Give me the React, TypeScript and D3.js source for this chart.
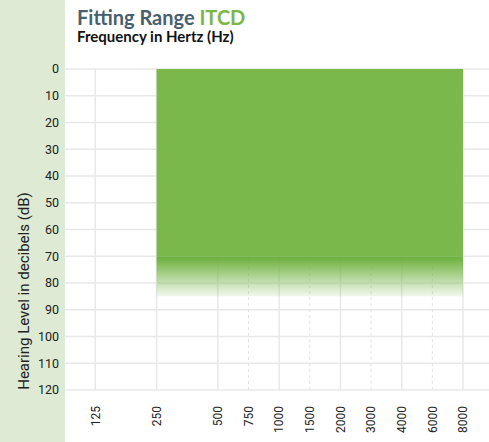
import React from "react";
import * as d3 from "d3";

// Data
const freqLabels = ["125", "250", "500", "750", "1000", "1500", "2000", "3000", "4000", "6000", "8000"];
const freqOctavePos = [0, 1, 2, 2.5, 3, 3.5, 4, 4.5, 5, 5.5, 6];
const freqIsMajor = [true, true, true, false, true, false, true, false, true, false, true];
const dbTicks = [0, 10, 20, 30, 40, 50, 60, 70, 80, 90, 100, 110, 120];
const rangeFreqFrom = 1; // 250 Hz (octave position)
const rangeFreqTo = 6; // 8000 Hz
const rangeDbFrom = 0;
const rangeDbSolidTo = 70;
const rangeDbTo = 85;

const W = 489;
const H = 442;
const PANEL_W = 65;

export default function App() {
  const x = d3.scaleLinear().domain([0, 6]).range([95.3, 463]);
  const y = d3.scaleLinear().domain([0, 120]).range([69, 390]);
  const font = "Roboto, 'Noto Sans', sans-serif";
  const grid = "#e8e8e8";

  return (
    <div style={{ position: "fixed", left: 0, top: 0 }}>
      <svg width={W} height={H} style={{ display: "block", background: "#fff" }}>
        <defs>
          <linearGradient id="fade" x1="0" y1="0" x2="0" y2="1">
            <stop offset="0" stopColor="#6aae3c" stopOpacity={1} />
            <stop offset="0.15" stopColor="#72b344" stopOpacity={0.92} />
            <stop offset="1" stopColor="#7ab84c" stopOpacity={0.1} />
          </linearGradient>
        </defs>
        <rect x={0} y={0} width={PANEL_W} height={H} fill="#deead3" />

        {/* horizontal grid */}
        {dbTicks.map((d) => (
          <line key={"h" + d} x1={PANEL_W} x2={W} y1={y(d)} y2={y(d)} stroke={grid} strokeWidth={1.5} />
        ))}
        {/* vertical grid */}
        {freqOctavePos.map((p, i) => (
          <line
            key={"v" + i}
            x1={x(p)}
            x2={x(p)}
            y1={y(0)}
            y2={y(120)}
            stroke={freqIsMajor[i] ? grid : "#e2e2e2"}
            strokeWidth={freqIsMajor[i] ? 1.5 : 1}
            strokeDasharray={freqIsMajor[i] ? undefined : "3,3"}
          />
        ))}

        {/* fitting range */}
        <rect
          x={x(rangeFreqFrom)}
          y={y(rangeDbFrom)}
          width={x(rangeFreqTo) - x(rangeFreqFrom)}
          height={y(rangeDbSolidTo) - y(rangeDbFrom)}
          fill="#7ab84c"
        />
        <rect
          x={x(rangeFreqFrom)}
          y={y(rangeDbSolidTo)}
          width={x(rangeFreqTo) - x(rangeFreqFrom)}
          height={y(rangeDbTo) - y(rangeDbSolidTo)}
          fill="url(#fade)"
        />

        {/* y tick labels */}
        {dbTicks.map((d) => (
          <text
            key={"yl" + d}
            x={59}
            y={y(d)}
            dy="0.35em"
            textAnchor="end"
            fontFamily={font}
            fontSize={12.5}
            fill="#222"
          >
            {d}
          </text>
        ))}
        {/* x tick labels */}
        {freqLabels.map((l, i) => (
          <text
            key={"xl" + i}
            transform={`translate(${x(freqOctavePos[i])},406) rotate(-90)`}
            dy="0.35em"
            textAnchor="end"
            fontFamily={font}
            fontSize={12}
            fill="#222"
          >
            {l}
          </text>
        ))}

        {/* y axis title */}
        <text
          transform={`translate(29,291) rotate(-90)`}
          textAnchor="middle"
          fontFamily={font}
          fontSize={15}
          fill="#222"
        >
          Hearing Level in decibels (dB)
        </text>

        {/* titles */}
        <text x={77} y={25} fontFamily="Lato, 'Open Sans', sans-serif" fontWeight="bold" fontSize={20} fill="#4a5f6e">
          Fitting Range <tspan fill="#7ab648">ITCD</tspan>
        </text>
        <text x={77} y={42} fontFamily="Lato, 'Open Sans', sans-serif" fontWeight="bold" fontSize={15} fill="#111">
          Frequency in Hertz (Hz)
        </text>
      </svg>
    </div>
  );
}
